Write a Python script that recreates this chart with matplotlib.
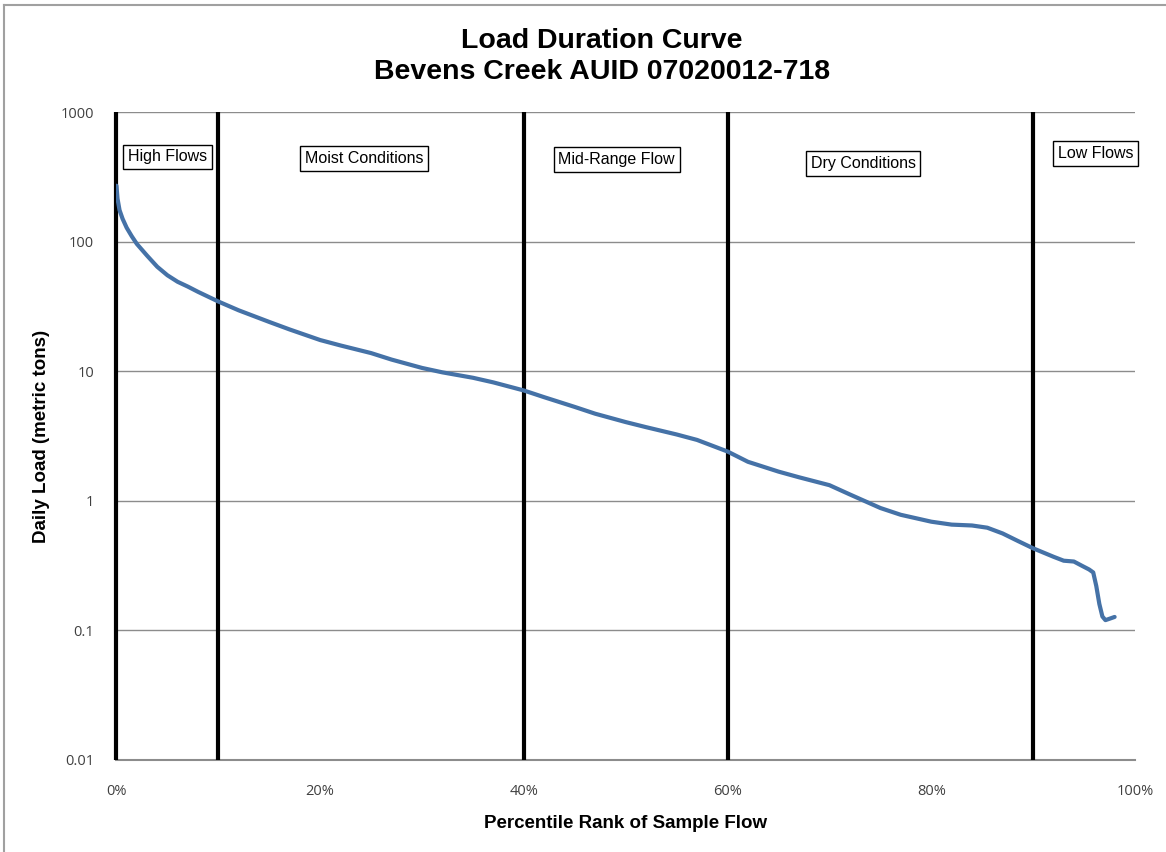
import matplotlib.pyplot as plt
from matplotlib.lines import Line2D
from matplotlib.ticker import FixedLocator, FixedFormatter

# percentile rank (%) and daily load (metric tons)
pct = [0.0, 0.1, 0.3, 0.6, 1.0, 1.5, 2.0, 3.0, 4.0, 5.0, 6.0, 7.0, 8.0, 10.0,
       12.0, 15.0, 17.0, 20.0, 22.0, 25.0, 27.0, 30.0, 32.0, 35.0, 37.0, 40.0,
       42.0, 45.0, 47.0, 50.0, 52.0, 55.0, 57.0, 60.0, 62.0, 65.0, 67.0, 70.0,
       72.0, 75.0, 77.0, 80.0, 82.0, 84.0, 85.5, 87.0, 88.5, 90.0, 92.0, 93.0,
       94.0, 94.8, 95.5, 95.9, 96.2, 96.5, 96.8, 97.1, 97.5, 98.0]
load = [270, 215, 175, 150, 128, 110, 96, 78, 64, 55, 49, 45, 41, 34.5,
        29.5, 24, 21, 17.4, 15.8, 13.8, 12.3, 10.6, 9.8, 8.9, 8.2, 7.1,
        6.3, 5.3, 4.7, 4.05, 3.7, 3.25, 2.95, 2.4, 2.0, 1.68, 1.52, 1.32,
        1.12, 0.88, 0.78, 0.69, 0.655, 0.645, 0.62, 0.56, 0.49, 0.43, 0.37, 0.345,
        0.34, 0.315, 0.295, 0.28, 0.22, 0.16, 0.128, 0.12, 0.123, 0.127]

bounds = [0, 10, 40, 60, 90]
zones = ["High Flows", "Moist Conditions", "Mid-Range Flow", "Dry Conditions", "Low Flows"]
zone_x = [5.0, 24.3, 49.1, 73.3, 96.1]
zone_y = [450, 440, 430, 400, 480]

y_ticks = [0.01, 0.1, 1, 10, 100, 1000]
y_labels = ["0.01", "0.1", "1", "10", "100", "1000"]
x_ticks = [0, 20, 40, 60, 80, 100]
x_labels = ["0%", "20%", "40%", "60%", "80%", "100%"]


def main():
    fig = plt.figure(figsize=(11.66, 8.52), dpi=100)
    ax = fig.add_axes([0.0999, 0.108, 0.8735, 0.7605])

    ax.set_yscale("log")
    ax.set_ylim(0.01, 1000)
    ax.set_xlim(0, 100)

    for t in y_ticks[1:]:
        ax.axhline(t, color="#8c8c8c", lw=1.0, zorder=1)

    for b in bounds:
        ax.axvline(b, color="black", lw=3, zorder=3, clip_on=False,
                   solid_capstyle="butt")

    ax.plot(pct, load, color="#4572a7", lw=3, zorder=4,
            solid_capstyle="round", solid_joinstyle="round")

    for name, x, y in zip(zones, zone_x, zone_y):
        ax.text(x, y, name, ha="center", va="center", fontsize=11.5,
                family="Liberation Sans", clip_on=False, zorder=5,
                bbox=dict(boxstyle="square,pad=0.3", fc="white", ec="black", lw=1))

    ax.yaxis.set_major_locator(FixedLocator(y_ticks))
    ax.yaxis.set_major_formatter(FixedFormatter(y_labels))
    ax.yaxis.set_minor_locator(FixedLocator([]))
    ax.xaxis.set_major_locator(FixedLocator(x_ticks))
    ax.xaxis.set_major_formatter(FixedFormatter(x_labels))
    ax.tick_params(axis="both", length=0, labelsize=10.5, labelcolor="#404040")
    ax.tick_params(axis="y", pad=16)
    ax.tick_params(axis="x", pad=17)
    for lbl in ax.get_xticklabels() + ax.get_yticklabels():
        lbl.set_family("Open Sans")

    for s in ["top", "right", "left"]:
        ax.spines[s].set_visible(False)
    ax.spines["bottom"].set_color("#8c8c8c")
    ax.spines["bottom"].set_linewidth(1.5)

    ax.set_xlabel("Percentile Rank of Sample Flow", fontsize=13.5, fontweight="bold",
                  family="Liberation Sans", labelpad=12)
    ax.set_ylabel("Daily Load (metric tons)", fontsize=13.5, fontweight="bold",
                  family="Liberation Sans", labelpad=8)

    fig.text(0.516, 0.967, "Load Duration Curve\nBevens Creek AUID 07020012-718",
             ha="center", va="top", fontsize=20.5, fontweight="bold",
             family="Liberation Sans", linespacing=1.25)

    # partial outer frame (top and left)
    fig.add_artist(Line2D([0.0035, 1.0], [0.994, 0.994], color="#a0a0a0", lw=1.5,
                          transform=fig.transFigure))
    fig.add_artist(Line2D([0.0035, 0.0035], [0.0, 0.994], color="#a0a0a0", lw=1.5,
                          transform=fig.transFigure))

    plt.savefig("out.png", dpi=100)


if __name__ == "__main__":
    main()
